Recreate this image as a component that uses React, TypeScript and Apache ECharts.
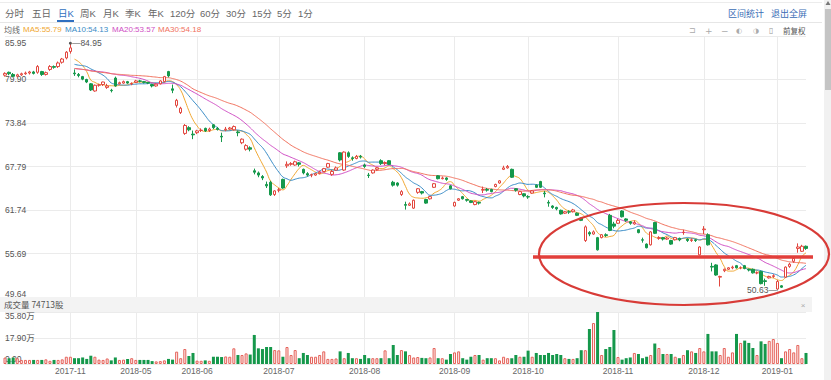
import React, { useEffect, useRef } from 'react';
import * as echarts from 'echarts';

// ---------- data ----------
const months = ['2017-10', '2017-11', '2018-05', '2018-06', '2018-07', '2018-08', '2018-09', '2018-10', '2018-11', '2018-12', '2019-01'];
const tradingDaysPerMonth = [16, 16, 15, 20, 21, 22, 18, 22, 21, 18, 8];

// [open, close, low, high]
const ohlc: number[][] = [
  [80.5, 80.75, 80.3, 80.9], [80.9, 80.7, 80.5, 81.0], [80.6, 80.35, 80.2, 80.8], [80.35, 80.55, 80.2, 80.7],
  [80.55, 80.7, 80.4, 80.85], [80.7, 80.8, 80.55, 81.0], [80.8, 80.95, 80.6, 81.1], [80.95, 80.75, 80.6, 81.1],
  [80.9, 81.7, 80.7, 81.9], [81.0, 80.6, 80.4, 81.1], [80.6, 80.85, 80.45, 81.0], [81.3, 81.7, 81.1, 81.9],
  [81.7, 81.6, 81.4, 81.85], [81.7, 82.2, 81.5, 82.4], [82.3, 82.75, 82.1, 82.9], [82.9, 83.7, 82.7, 83.85],
  // 2017-11
  [83.8, 84.3, 83.5, 84.95], [80.8, 80.7, 80.4, 81.3], [80.6, 80.45, 80.2, 80.8], [80.3, 79.95, 79.8, 80.4],
  [79.9, 79.55, 79.4, 80.0], [79.3, 78.45, 78.3, 79.4], [78.3, 79.1, 78.2, 79.2], [79.1, 79.15, 78.9, 79.3],
  [79.2, 79.55, 79.0, 79.6], [78.8, 79.0, 78.6, 79.3], [78.4, 78.35, 78.1, 78.6], [80.1, 79.0, 78.9, 80.3],
  [79.3, 79.45, 79.2, 79.6], [79.4, 79.6, 79.3, 79.75], [79.6, 79.4, 79.3, 79.7], [79.3, 79.35, 79.1, 79.5],
  // 2018-05
  [79.5, 79.7, 79.4, 79.85], [79.7, 79.65, 79.5, 79.85], [79.6, 79.5, 79.35, 79.7], [79.5, 79.4, 79.25, 79.55],
  [79.2, 79.0, 78.8, 79.3], [79.0, 79.25, 78.9, 79.35], [79.3, 79.7, 79.2, 79.8], [79.6, 80.3, 79.5, 80.4],
  [81.0, 80.4, 80.2, 81.1], [78.6, 78.4, 78.0, 79.2], [76.3, 77.0, 76.0, 77.2], [75.3, 75.9, 75.1, 76.1],
  [72.4, 73.5, 72.2, 73.7], [73.2, 72.9, 72.7, 73.4], [72.3, 72.2, 71.6, 72.8],
  // 2018-06
  [72.5, 72.75, 72.3, 72.9], [72.8, 72.85, 72.6, 73.1], [73.1, 72.75, 72.6, 73.2], [72.8, 73.0, 72.6, 73.2],
  [73.6, 73.2, 73.0, 73.7], [73.1, 72.95, 72.8, 73.3], [72.0, 71.9, 71.2, 72.5], [72.9, 73.0, 72.7, 73.3],
  [73.0, 73.15, 72.9, 73.3], [72.9, 73.35, 72.8, 73.5], [72.6, 72.5, 72.0, 72.8], [71.1, 71.6, 70.9, 71.7],
  [70.2, 70.7, 70.0, 70.9], [70.4, 70.2, 69.9, 70.6], [67.2, 67.0, 66.7, 67.5], [66.9, 66.6, 66.3, 67.1],
  [66.4, 66.2, 65.9, 66.6], [65.3, 65.1, 64.8, 65.7], [65.6, 63.85, 63.7, 65.8], [63.9, 64.4, 63.7, 64.5],
  // 2018-07
  [64.5, 64.55, 64.2, 64.8], [66.0, 64.8, 64.7, 66.1], [67.9, 68.1, 67.6, 68.5], [68.1, 68.2, 67.9, 68.4],
  [68.0, 68.45, 67.9, 68.6], [68.3, 68.1, 67.8, 68.4], [67.4, 66.9, 66.7, 67.5], [66.8, 66.6, 66.4, 67.0],
  [66.6, 66.65, 66.3, 66.8], [66.6, 66.8, 66.5, 66.9], [66.8, 67.0, 66.7, 67.2], [67.1, 67.5, 67.0, 67.6],
  [67.7, 68.2, 67.6, 68.3], [66.7, 67.1, 66.5, 67.3], [67.3, 67.6, 67.2, 67.8], [69.7, 68.7, 68.5, 69.8],
  [67.3, 69.8, 67.2, 69.9], [69.7, 69.2, 69.0, 69.9], [69.0, 68.9, 68.6, 69.2], [68.9, 69.2, 68.8, 69.4],
  [69.2, 69.1, 68.9, 69.4],
  // 2018-08
  [68.0, 67.8, 67.6, 68.2], [66.6, 66.55, 66.2, 66.9], [66.9, 67.3, 66.8, 67.4], [67.4, 67.6, 67.2, 67.7],
  [68.6, 68.2, 68.0, 68.8], [68.2, 68.35, 68.0, 68.5], [68.6, 68.1, 68.0, 68.7], [65.6, 65.2, 65.0, 65.8],
  [65.5, 65.2, 65.0, 65.6], [63.9, 64.3, 63.7, 64.5], [62.5, 62.4, 61.8, 62.9], [62.4, 62.6, 62.3, 62.8],
  [62.0, 63.1, 61.9, 63.2], [64.2, 64.7, 64.0, 64.8], [64.3, 64.1, 63.9, 64.4], [63.2, 62.7, 62.6, 63.3],
  [63.3, 63.6, 63.2, 63.7], [64.9, 65.4, 64.8, 65.5], [66.5, 66.1, 66.0, 66.6], [66.1, 66.2, 66.0, 66.4],
  [66.2, 66.0, 65.8, 66.3], [65.1, 64.7, 64.6, 65.2],
  // 2018-09
  [62.3, 62.8, 62.2, 62.9], [63.1, 63.3, 63.0, 63.4], [63.6, 63.3, 63.2, 63.7], [63.2, 63.1, 62.9, 63.3],
  [63.0, 62.8, 62.7, 63.1], [62.5, 62.9, 62.4, 63.0], [62.8, 62.7, 62.5, 62.9], [64.5, 64.6, 64.1, 65.0],
  [64.6, 64.5, 64.3, 64.8], [64.6, 64.3, 64.2, 64.7], [65.0, 65.3, 64.9, 65.4], [65.5, 65.8, 65.4, 65.9],
  [67.4, 67.6, 67.3, 67.9], [67.6, 67.8, 67.5, 68.0], [67.4, 66.3, 66.2, 67.5], [64.7, 64.5, 64.3, 64.8],
  [63.9, 64.3, 63.8, 64.4], [64.0, 63.7, 63.5, 64.1],
  // 2018-10
  [63.6, 63.55, 63.3, 63.8], [64.1, 64.4, 64.0, 64.5], [65.2, 64.9, 64.8, 65.3], [65.7, 64.9, 64.8, 65.8],
  [64.1, 64.0, 63.5, 64.4], [62.8, 62.7, 62.2, 63.1], [62.3, 62.1, 61.9, 62.4], [62.1, 61.9, 61.7, 62.2],
  [61.7, 61.2, 61.1, 61.8], [61.3, 61.5, 61.2, 61.6], [61.5, 61.45, 61.2, 61.7], [61.5, 61.75, 61.4, 61.9],
  [61.3, 61.0, 60.9, 61.4], [60.6, 60.3, 60.2, 60.7], [57.5, 59.4, 57.3, 59.6], [58.6, 58.4, 58.1, 58.8],
  [58.4, 58.7, 58.3, 58.9], [57.9, 56.2, 56.1, 58.0], [57.9, 58.3, 57.8, 58.4], [58.3, 58.2, 58.0, 58.5],
  [61.0, 58.9, 58.8, 61.2], [59.8, 59.5, 59.2, 60.1],
  // 2018-11
  [59.9, 60.3, 59.8, 60.5], [61.6, 60.8, 60.7, 61.7], [60.5, 60.3, 60.1, 60.6], [60.1, 59.9, 59.7, 60.2],
  [59.8, 60.0, 59.7, 60.3], [59.0, 58.6, 58.5, 59.1], [57.6, 57.55, 57.2, 57.9], [57.0, 56.5, 56.4, 57.1],
  [56.9, 58.7, 56.8, 58.8], [60.0, 58.5, 58.4, 60.1], [57.8, 57.9, 57.6, 58.1], [57.9, 57.7, 57.5, 58.0],
  [57.7, 57.85, 57.6, 58.0], [57.5, 57.0, 56.9, 57.6], [57.6, 57.9, 57.5, 58.0], [57.8, 57.6, 57.4, 57.9],
  [58.6, 58.65, 58.3, 59.0], [57.7, 57.5, 57.3, 57.8], [57.5, 57.6, 57.3, 57.8], [57.6, 57.5, 57.3, 57.7],
  [55.5, 56.6, 55.4, 56.7],
  // 2018-12
  [59.0, 59.1, 58.4, 59.5], [58.3, 56.9, 56.8, 58.5], [53.9, 53.8, 53.2, 54.4], [54.1, 52.7, 52.6, 54.2],
  [52.4, 52.5, 51.1, 52.6], [53.3, 53.5, 53.1, 53.6], [53.5, 53.7, 53.4, 53.8], [53.7, 53.8, 53.5, 54.0],
  [54.0, 53.7, 53.6, 54.1], [53.7, 53.7, 53.5, 53.9], [54.0, 53.6, 53.5, 54.1], [53.5, 53.4, 53.2, 53.6],
  [53.5, 53.0, 52.9, 53.6], [53.0, 53.0, 52.8, 53.2], [53.2, 51.5, 51.4, 53.3], [51.9, 51.8, 51.2, 52.2],
  [52.3, 52.5, 52.2, 52.6], [52.5, 52.6, 52.3, 52.8],
  // 2019-01
  [50.75, 51.8, 50.63, 52.0], [51.2, 51.0, 50.9, 51.3], [52.4, 53.8, 52.3, 53.9], [53.9, 54.2, 53.7, 54.4],
  [54.6, 55.0, 54.4, 55.2], [56.4, 56.6, 55.8, 57.1], [56.0, 56.7, 55.9, 56.9], [56.7, 56.4, 56.2, 56.8],
];

// shares
const volumes: number[] = [
  44000, 40000, 44000, 40000, 28000, 28000, 28000, 28000, 28000, 28000, 32000, 22000, 28000, 28000, 32000, 50000,
  50000, 40000, 40000, 45000, 35000, 57000, 50000, 30000, 28000, 38000, 25000, 45000, 28000, 30000, 35000, 40000,
  28000, 28000, 28000, 28000, 20000, 18000, 20000, 25000, 35000, 30000, 85000, 40000, 103000, 55000, 76000,
  23000, 22000, 25000, 22000, 50000, 50000, 48000, 52000, 50000, 108000, 62000, 62000, 73000, 65000, 200000, 108000, 103000, 117000, 117000, 96000,
  94000, 50000, 117000, 62000, 96000, 40000, 76000, 62000, 50000, 50000, 62000, 87000, 35000, 35000, 38000, 87000, 40000, 76000, 40000, 40000, 35000,
  62000, 40000, 40000, 40000, 40000, 94000, 40000, 131000, 62000, 96000, 87000, 62000, 45000, 48000, 42000, 40000, 45000, 110000, 40000, 40000, 30000, 69000,
  80000, 87000, 40000, 30000, 50000, 62000, 62000, 30000, 40000, 40000, 40000, 25000, 50000, 40000, 40000, 62000, 50000, 50000,
  92000, 50000, 76000, 62000, 62000, 76000, 62000, 69000, 62000, 40000, 35000, 35000, 40000, 95000, 95000, 241000, 282000, 358000, 62000, 103000, 117000, 234000,
  48000, 30000, 40000, 45000, 76000, 69000, 40000, 50000, 62000, 141000, 110000, 69000, 69000, 69000, 50000, 40000, 62000, 95000, 87000, 76000, 110000,
  87000, 207000, 87000, 87000, 62000, 110000, 50000, 80000, 207000, 145000, 161000, 145000, 110000, 62000, 156000, 138000, 159000, 172000,
  145000, 40000, 87000, 103000, 80000, 131000, 40000, 76000,
];

const priceTicks = [49.64, 55.69, 61.74, 67.79, 73.84, 79.9, 85.95];
const volumeMax = 358000;
const maPeriods = [5, 10, 20, 30];
const maLegendValues = ['55.79', '54.13', '53.57', '54.18'];
const maFirstIndex = 17;
const highMark = { index: 16, value: 84.95 };
const lowMark = { index: 189, value: 50.63 };
const lastVolumeText = '成交量 74713股';
const toolbarItems = ['分时', '五日', '日K', '周K', '月K', '季K', '年K', '120分', '60分', '30分', '15分', '5分', '1分'];

// ---------- helpers ----------
const categories: string[] = [];
const monthStarts = new Set<number>();
months.forEach((m, mi) => {
  if (mi > 0) monthStarts.add(categories.length);
  for (let d = 0; d < tradingDaysPerMonth[mi]; d++) categories.push(`${m}/${d + 1}`);
});

function movingAverage(n: number) {
  return ohlc.map((_, i) => {
    if (i < maFirstIndex) return '-';
    const from = Math.max(0, i - n + 1);
    let s = 0;
    for (let k = from; k <= i; k++) s += ohlc[k][1];
    return +(s / (i - from + 1)).toFixed(2);
  });
}

const LATIN = '"Liberation Sans", Arial, "Noto Sans CJK SC", sans-serif';
const CJK = '"Noto Sans CJK SC", "Liberation Sans", sans-serif';
const UP = '#e2463e';
const DOWN = '#15984b';
const maColors = ['#f0a732', '#3a8cc6', '#cf4fc4', '#f0725e'];

const txt = (text: string, x: number, y: number, size: number, fill: string, family = CJK, align = 'left') => ({
  type: 'text', x, y, silent: true, z: 50,
  style: { text, fontSize: size, fontFamily: family, fill, align, verticalAlign: 'middle' },
});

export default function App() {
  const ref = useRef<HTMLDivElement>(null);
  useEffect(() => {
    if (!ref.current) return;
    const chart = echarts.init(ref.current, undefined, { renderer: 'svg' });

    const toolbarX = [5, 32, 58, 80, 103, 125, 148, 170, 200, 226, 252, 277, 298];
    const legendX = [23, 65, 112, 158];

    const graphics: any[] = [
      { type: 'rect', shape: { x: 0, y: 297, width: 812, height: 15 }, style: { fill: '#f3f3f3' }, silent: true, z: 1 },
      { type: 'line', shape: { x1: 0, y1: 2.5, x2: 822, y2: 2.5 }, style: { stroke: '#ececec', lineWidth: 1 }, silent: true },
      { type: 'line', shape: { x1: 0, y1: 22.5, x2: 822, y2: 22.5 }, style: { stroke: '#e6e6e6', lineWidth: 1 }, silent: true },
      ...toolbarItems.map((t, i) => txt(t, toolbarX[i], 13, 9.5, t === '日K' ? '#2f6fc0' : '#666', LATIN)),
      { type: 'rect', shape: { x: 57, y: 20, width: 17, height: 2 }, style: { fill: '#2f6fc0' }, silent: true },
      txt('区间统计', 728, 13, 9, '#3a6cb5'),
      txt('退出全屏', 771, 13, 9, '#3a6cb5'),
      txt('均线', 4, 29.5, 8, '#666'),
      ...maPeriods.map((p, i) => txt(`MA${p}:${maLegendValues[i]}`, legendX[i], 29.5, 8, maColors[i], LATIN)),
      txt('⊐', 689, 30.5, 8, '#aaa', '"DejaVu Sans", sans-serif'),
      txt('+', 705, 30.5, 9, '#aaa', '"DejaVu Sans", sans-serif'),
      txt('−', 721, 30.5, 9, '#aaa', '"DejaVu Sans", sans-serif'),
      txt('◐', 736, 30.5, 7, '#aaa', '"DejaVu Sans", sans-serif'),
      txt('◑', 753, 30.5, 7, '#aaa', '"DejaVu Sans", sans-serif'),
      txt('▯', 769, 30.5, 8, '#999', '"DejaVu Sans", sans-serif'),
      txt('前复权', 783, 30.5, 7.5, '#555'),
      txt(lastVolumeText, 4, 303.5, 8.5, '#555'),
      txt('×', 803, 305, 8, '#aaa', LATIN, 'center'),
      { type: 'rect', shape: { x: 824, y: 0, width: 7, height: 380 }, style: { fill: '#f1f1f1' }, silent: true },
      { type: 'rect', shape: { x: 825, y: 9, width: 6, height: 81 }, style: { fill: '#c4c4c4' }, silent: true },
      { type: 'polygon', shape: { points: [[828, 1], [825.5, 5], [830.5, 5]] }, style: { fill: '#777' }, silent: true },
      { type: 'line', shape: { x1: 533, y1: 257, x2: 813, y2: 257 }, style: { stroke: '#e23f3b', lineWidth: 3.5 }, silent: true, z: 100 },
      { type: 'ellipse', shape: { cx: 684, cy: 254, rx: 145, ry: 51 }, style: { fill: 'none', stroke: '#d83b37', lineWidth: 2.2 }, silent: true, z: 100 },
    ];

    const vAxisLabel = (v: number) => {
      if (v === 0) return '{b|0.00}';
      const s = (v / 10000).toFixed(2) + '万';
      return v === volumeMax ? `{t|${s}}` : s;
    };
    const pAxisLabel = (v: number) => {
      const s = v.toFixed(2);
      if (v === priceTicks[priceTicks.length - 1]) return `{t|${s}}`;
      if (v === priceTicks[0]) return `{b|${s}}`;
      return s;
    };
    const labelBase = { fontSize: 8.5, color: '#555', fontFamily: LATIN };

    const option: any = {
      animation: false,
      backgroundColor: '#ffffff',
      graphic: { elements: graphics },
      grid: [
        { left: 5, right: 25, top: 36, height: 261 },
        { left: 5, right: 25, top: 312, height: 52 },
      ],
      xAxis: [
        {
          type: 'category', gridIndex: 0, data: categories, boundaryGap: false,
          axisLine: { show: false }, axisTick: { show: false }, axisLabel: { show: false },
          splitLine: { show: true, interval: (i: number) => monthStarts.has(i), lineStyle: { color: '#ebebeb' } },
        },
        {
          type: 'category', gridIndex: 1, data: categories, boundaryGap: false,
          axisLine: { show: false }, axisTick: { show: false },
          axisLabel: { interval: (i: number) => monthStarts.has(i), formatter: (v: string) => v.slice(0, 7), margin: 3, ...labelBase, color: '#666' },
          splitLine: { show: true, interval: (i: number) => monthStarts.has(i), lineStyle: { color: '#ebebeb' } },
        },
      ],
      yAxis: [
        {
          type: 'value', gridIndex: 0, min: priceTicks[0], max: priceTicks[priceTicks.length - 1],
          axisLine: { show: false }, axisTick: { show: false, customValues: priceTicks },
          axisLabel: {
            inside: true, margin: 0, customValues: priceTicks, formatter: pAxisLabel, ...labelBase,
            rich: { t: { ...labelBase, padding: [13, 0, 0, 0] }, b: { ...labelBase, padding: [0, 0, 7, 0] } },
          },
          splitLine: { lineStyle: { color: '#ebebeb' } },
        },
        {
          type: 'value', gridIndex: 1, min: 0, max: volumeMax, interval: volumeMax / 2,
          axisLine: { show: false }, axisTick: { show: false },
          axisLabel: {
            inside: true, margin: 0, formatter: vAxisLabel, ...labelBase,
            rich: { t: { ...labelBase, padding: [8, 0, 0, 0] }, b: { ...labelBase, padding: [0, 0, 10, 0] } },
          },
          splitLine: { lineStyle: { color: '#ebebeb' } },
        },
      ],
      series: [
        ...maPeriods.map((p, i) => ({
          name: `MA${p}`, type: 'line', xAxisIndex: 0, yAxisIndex: 0, data: movingAverage(p),
          smooth: true, showSymbol: false, symbol: 'none', silent: true, z: 2,
          lineStyle: { width: 1, color: maColors[i] },
        })),
        {
          name: 'K', type: 'candlestick', xAxisIndex: 0, yAxisIndex: 0, data: ohlc, barWidth: 3, clip: false, z: 3,
          itemStyle: { color: '#ffffff', color0: DOWN, borderColor: UP, borderColor0: DOWN, borderWidth: 1 },
          markPoint: {
            silent: true,
            data: [
              {
                coord: [categories[highMark.index], highMark.value], symbol: 'circle', symbolSize: 3,
                itemStyle: { color: '#555' },
                label: { show: true, position: 'right', distance: 0, formatter: '—' + highMark.value.toFixed(2), ...labelBase },
              },
              {
                coord: [categories[lowMark.index], lowMark.value], symbol: 'circle', symbolSize: 1,
                itemStyle: { color: '#777' },
                label: { show: true, position: 'left', distance: 0, formatter: lowMark.value.toFixed(2) + '—', ...labelBase },
              },
            ],
          },
        },
        {
          name: '成交量', type: 'bar', xAxisIndex: 1, yAxisIndex: 1, barWidth: 3, clip: false,
          data: volumes.map((v, i) => {
            const up = ohlc[i][1] >= ohlc[i][0];
            return {
              value: v,
              itemStyle: up ? { color: '#fdeceb', borderColor: '#e5625a', borderWidth: 1 } : { color: DOWN },
            };
          }),
        },
      ],
    };
    chart.setOption(option);
    return () => chart.dispose();
  }, []);
  return <div ref={ref} style={{ position: 'fixed', left: 0, top: 0, width: 831, height: 380 }} />;
}
